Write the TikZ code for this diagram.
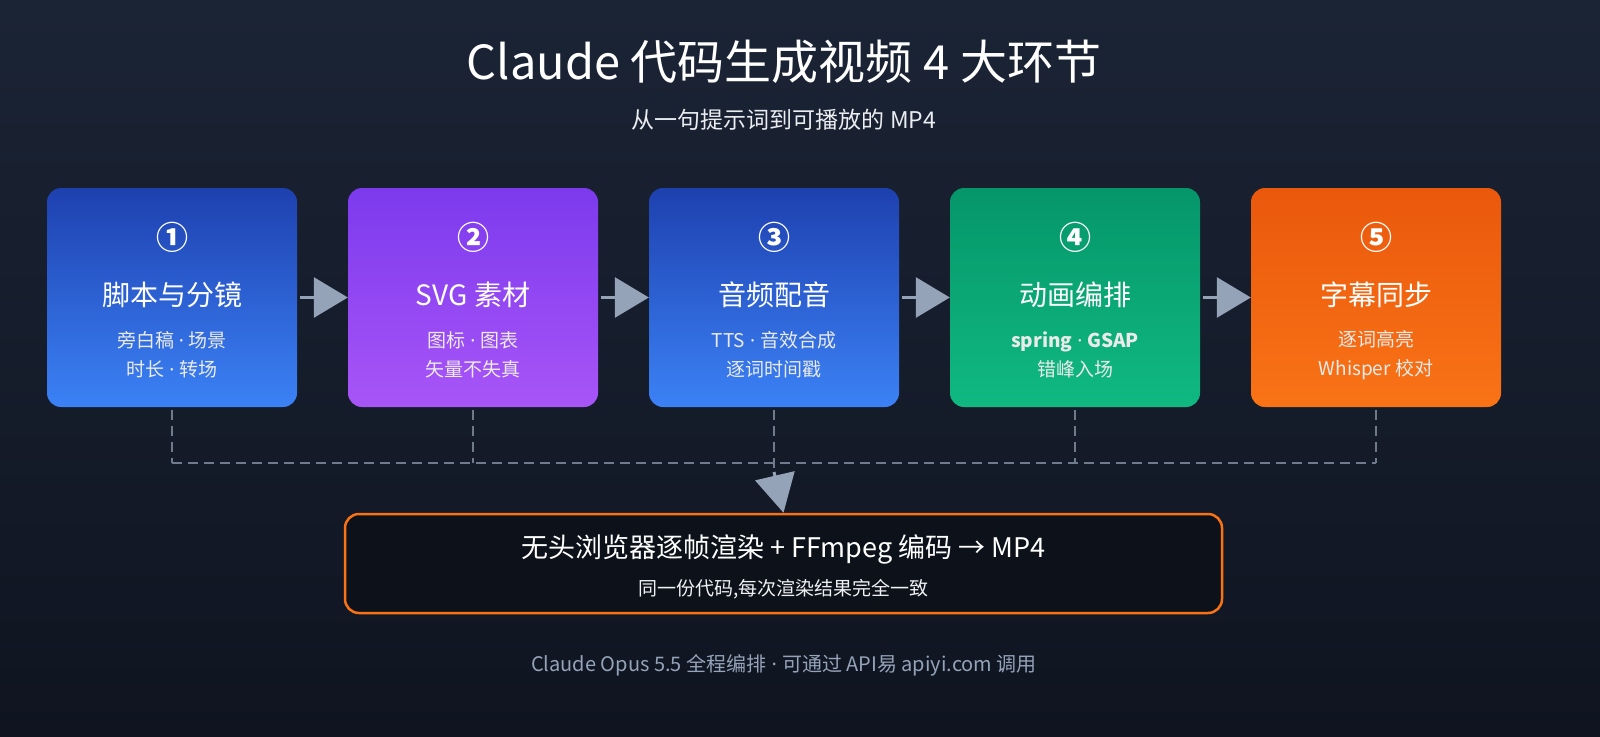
\documentclass[tikz,border=0pt]{standalone}
\usepackage{fontspec}
\setmainfont{Noto Sans CJK SC}
\newfontfamily\latn{Noto Sans}
\newcommand{\dt}{{\latn\ ·\ }}
\usetikzlibrary{arrows.meta}
\definecolor{bgtop}{HTML}{1B2435}
\definecolor{bgbot}{HTML}{0F1420}
\definecolor{arr}{HTML}{94A3B8}
\definecolor{orng}{HTML}{F97316}
\definecolor{outfill}{HTML}{0D1119}
\definecolor{c1t}{HTML}{1E40AF}\definecolor{c1b}{HTML}{3B82F6}
\definecolor{c2t}{HTML}{7C3AED}\definecolor{c2b}{HTML}{A855F7}
\definecolor{c4t}{HTML}{059669}\definecolor{c4b}{HTML}{10B981}
\definecolor{c5t}{HTML}{EA580C}\definecolor{c5b}{HTML}{F97316}
\begin{document}
\begin{tikzpicture}[x=1pt,y=-1pt,
 box/.style={rounded corners=14pt,minimum width=250pt,minimum height=219pt,inner sep=0pt},
 num/.style={text=white,font=\fontsize{32}{32}\selectfont\bfseries},
 ttl/.style={text=white,font=\fontsize{28}{28}\selectfont},
 sub/.style={text=white!92!black,font=\fontsize{19}{29}\selectfont,align=center},
 flow/.style={arr,line width=3pt,-{Triangle[length=34pt,width=40pt]}},
 dashln/.style={arr!75!black,line width=2.5pt,dash pattern=on 10pt off 6pt}]
\shade[top color=bgtop,bottom color=bgbot] (0,0) rectangle (1600,736);
\useasboundingbox (0,0) rectangle (1600,736);
\node[text=white,font=\fontsize{47}{47}\selectfont] (title) at (784,62) {Claude 代码生成视频 4 大环节};
\node[text=white!80!arr,font=\fontsize{23}{23}\selectfont] (subt) at (784,120) {从一句提示词到可播放的 MP4};
\foreach \i/\t/\b/\x in {1/c1t/c1b/172,2/c2t/c2b/473,3/c1t/c1b/774,4/c4t/c4b/1075,5/c5t/c5b/1376}{
 \node[box,top color=\t,bottom color=\b] (b\i) at (\x,297.5) {};}
\node[num] (n1) at (172,237) {①};\node[ttl] (t1) at (172,295) {脚本与分镜};\node[sub] (s1) at (172,355) {旁白稿\dt 场景\\时长\dt 转场};
\node[num] (n2) at (473,237) {②};\node[ttl] (t2) at (473,295) {SVG 素材};\node[sub] (s2) at (473,355) {图标\dt 图表\\矢量不失真};
\node[num] (n3) at (774,237) {③};\node[ttl] (t3) at (774,295) {音频配音};\node[sub] (s3) at (774,355) {TTS\dt 音效合成\\逐词时间戳};
\node[num] (n4) at (1075,237) {④};\node[ttl] (t4) at (1075,295) {动画编排};\node[sub] (s4) at (1075,355) {\textbf{spring\dt GSAP}\\错峰入场};
\node[num] (n5) at (1376,237) {⑤};\node[ttl] (t5) at (1376,295) {字幕同步};\node[sub] (s5) at (1376,355) {逐词高亮\\Whisper 校对};
\foreach \a/\b in {1/2,2/3,3/4,4/5}{\draw[flow] ([xshift=3pt]b\a.east) -- (b\b.west);}
\coordinate (h1) at (172,463);\coordinate (h5) at (1376,463);\coordinate (h3) at (774,472);
\foreach \i/\x in {1/172,2/473,4/1075,5/1376}{\draw[dashln] ([yshift=-3pt]b\i.south) -- (\x,463);}
\draw[dashln] (h1) -- (h5);
\node[draw=orng,line width=2.5pt,fill=outfill,rounded corners=14pt,minimum width=877pt,minimum height=99pt] (out) at (783.5,563.5) {};
\draw[dashln] ([yshift=-3pt]b3.south) -- (h3);
\draw[arr,line width=3pt,-{Triangle[length=38pt,width=40pt]}] (h3) -- (out.north);
\node[text=white,font=\fontsize{27}{27}\selectfont] (ot) at (783.5,549) {无头浏览器逐帧渲染 + FFmpeg 编码 → MP4};
\node[text=white!85!arr,font=\fontsize{19}{19}\selectfont] (os) at (783.5,589) {同一份代码,每次渲染结果完全一致};
\node[text=arr,font=\fontsize{20}{20}\selectfont] (foot) at (784,665) {Claude Opus 5.5 全程编排\dt 可通过 API易 apiyi.com 调用};
\end{tikzpicture}
\end{document}
